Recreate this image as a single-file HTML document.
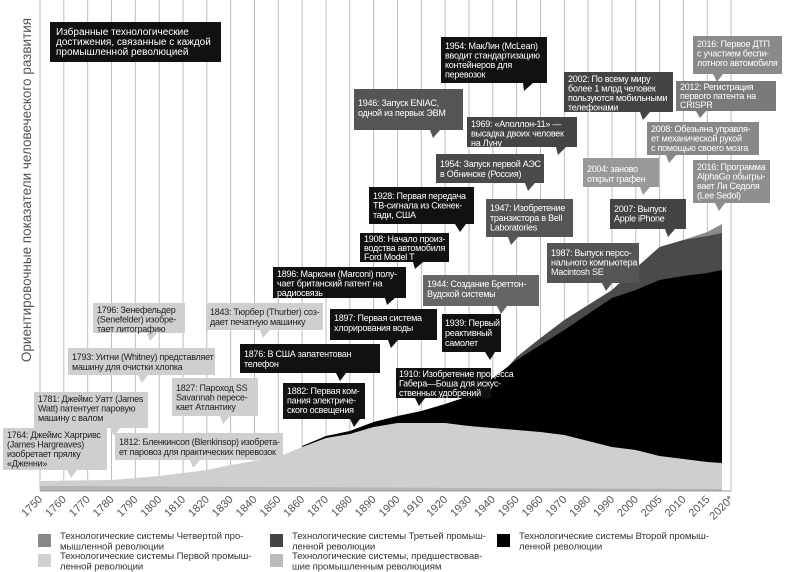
<!DOCTYPE html>
<html><head><meta charset="utf-8"><style>
body{margin:0;background:#fff;}
svg{display:block;font-family:"Liberation Sans","Noto Sans CJK SC",sans-serif;}
.t{font-size:9px;letter-spacing:-0.25px;}
.w{fill:#fff;}
.d{fill:#222;}
.k text{font-size:9.6px;fill:#333;letter-spacing:-0.1px;}
</style></head><body>
<svg width="790" height="572" viewBox="0 0 790 572" xmlns="http://www.w3.org/2000/svg">
<rect width="790" height="572" fill="#fff"/>
<g stroke="#bcbcbc" stroke-width="1">
<line x1="40" y1="0" x2="40" y2="491"/><line x1="63.8" y1="0" x2="63.8" y2="491"/><line x1="87.7" y1="0" x2="87.7" y2="491"/><line x1="111.5" y1="0" x2="111.5" y2="491"/><line x1="135.3" y1="0" x2="135.3" y2="491"/><line x1="159.2" y1="0" x2="159.2" y2="491"/><line x1="183" y1="0" x2="183" y2="491"/><line x1="206.8" y1="0" x2="206.8" y2="491"/><line x1="230.6" y1="0" x2="230.6" y2="491"/><line x1="254.5" y1="0" x2="254.5" y2="491"/><line x1="278.3" y1="0" x2="278.3" y2="491"/><line x1="302.1" y1="0" x2="302.1" y2="491"/><line x1="326" y1="0" x2="326" y2="491"/><line x1="349.8" y1="0" x2="349.8" y2="491"/><line x1="373.6" y1="0" x2="373.6" y2="491"/><line x1="397.5" y1="0" x2="397.5" y2="491"/><line x1="421.3" y1="0" x2="421.3" y2="491"/><line x1="445.1" y1="0" x2="445.1" y2="491"/><line x1="469" y1="0" x2="469" y2="491"/><line x1="492.8" y1="0" x2="492.8" y2="491"/><line x1="516.6" y1="0" x2="516.6" y2="491"/><line x1="540.5" y1="0" x2="540.5" y2="491"/><line x1="564.3" y1="0" x2="564.3" y2="491"/><line x1="588.1" y1="0" x2="588.1" y2="491"/><line x1="612" y1="0" x2="612" y2="491"/><line x1="635.8" y1="0" x2="635.8" y2="491"/><line x1="659.6" y1="0" x2="659.6" y2="491"/><line x1="683.4" y1="0" x2="683.4" y2="491"/><line x1="707.3" y1="0" x2="707.3" y2="491"/><line x1="731.1" y1="0" x2="731.1" y2="491"/>
</g>
<polygon fill="#8a8a8a" points="659.6,247 683.4,240 707.3,232 722,224 722,491 659.6,491"/>
<polygon fill="#4a4a4a" points="505,370 516.6,357 540.5,338 564.3,320 588.1,305 612,290 635.8,268 659.6,247 683.4,240 707.3,236 722,233 722,491 505,491"/>
<polygon fill="#000" points="302.1,446 326,436 349.8,431 373.6,422 397.5,416 421.3,411 445.1,404 469,396 492.8,378 516.6,360 540.5,345 564.3,330 588.1,314 612,298 635.8,290 659.6,280 683.4,276 707.3,273 722,270 722,491 302.1,491"/>
<polygon fill="#cfcfcf" points="40,481 111.5,480 159.2,476 206.8,470 230.6,465 254.5,461 278.3,457 302.1,447 326,438 349.8,434 373.6,427 397.5,423 445.1,423 469,426 492.8,428 516.6,430 540.5,432 564.3,435 588.1,441 612,447 635.8,450 659.6,456 683.4,459 707.3,462 722,463 722,491 40,491"/>
<polygon fill="#b5b5b5" points="40,486 722,489 722,491 40,491"/>
<line x1="40" y1="491" x2="731" y2="491" stroke="#999" stroke-width="1"/>
<g font-size="11" fill="#555" text-anchor="end">
<text transform="translate(43,500) rotate(-45)">1750</text><text transform="translate(66.8,500) rotate(-45)">1760</text><text transform="translate(90.7,500) rotate(-45)">1770</text><text transform="translate(114.5,500) rotate(-45)">1780</text><text transform="translate(138.3,500) rotate(-45)">1790</text><text transform="translate(162.2,500) rotate(-45)">1800</text><text transform="translate(186,500) rotate(-45)">1810</text><text transform="translate(209.8,500) rotate(-45)">1820</text><text transform="translate(233.6,500) rotate(-45)">1830</text><text transform="translate(257.5,500) rotate(-45)">1840</text><text transform="translate(281.3,500) rotate(-45)">1850</text><text transform="translate(305.1,500) rotate(-45)">1860</text><text transform="translate(329,500) rotate(-45)">1870</text><text transform="translate(352.8,500) rotate(-45)">1880</text><text transform="translate(376.6,500) rotate(-45)">1890</text><text transform="translate(400.5,500) rotate(-45)">1900</text><text transform="translate(424.3,500) rotate(-45)">1910</text><text transform="translate(448.1,500) rotate(-45)">1920</text><text transform="translate(472,500) rotate(-45)">1930</text><text transform="translate(495.8,500) rotate(-45)">1940</text><text transform="translate(519.6,500) rotate(-45)">1950</text><text transform="translate(543.5,500) rotate(-45)">1960</text><text transform="translate(567.3,500) rotate(-45)">1970</text><text transform="translate(591.1,500) rotate(-45)">1980</text><text transform="translate(615,500) rotate(-45)">1990</text><text transform="translate(638.8,500) rotate(-45)">2000</text><text transform="translate(662.6,500) rotate(-45)">2005</text><text transform="translate(686.4,500) rotate(-45)">2010</text><text transform="translate(710.3,500) rotate(-45)">2015</text><text transform="translate(734.1,500) rotate(-45)">2020*</text>
</g>
<text transform="translate(31,190) rotate(-90)" text-anchor="middle" font-size="13.5" fill="#555">Ориентировочные показатели человеческого развития</text>

<g class="t">
<rect x="50" y="22" width="171" height="40" fill="#111"/>
<g font-size="10" letter-spacing="0">
<text class="w" x="56" y="35">Избранные технологические</text><text class="w" x="56" y="45">достижения, связанные с каждой</text><text class="w" x="56" y="55">промышленной революцией</text>
</g>

<rect x="441" y="37" width="106" height="46" fill="#111"/><polygon points="523,83 533,83 524,91" fill="#111"/>
<text class="w" x="445" y="49">1954: МакЛин (McLean)</text><text class="w" x="445" y="58.5">вводит стандартизацию</text><text class="w" x="445" y="68">контейнеров для</text><text class="w" x="445" y="77.5">перевозок</text>

<rect x="369" y="187" width="105" height="37" fill="#111"/><polygon points="455,224 466,224 460,232" fill="#111"/>
<text class="w" x="373" y="199">1928: Первая передача</text><text class="w" x="373" y="208.5">ТВ-сигнала из Скенек-</text><text class="w" x="373" y="218">тади, США</text>

<rect x="360" y="233" width="89" height="29" fill="#111"/><polygon points="413,262 423,262 415,269" fill="#111"/>
<text class="w" x="364" y="242">1908: Начало произ-</text><text class="w" x="364" y="251">водства автомобиля</text><text class="w" x="364" y="260">Ford Model T</text>

<rect x="273" y="267" width="133" height="31" fill="#111"/><polygon points="385,298 395,298 387,305" fill="#111"/>
<text class="w" x="277" y="277">1896: Маркони (Marconi) полу-</text><text class="w" x="277" y="286.5">чает британский патент на</text><text class="w" x="277" y="296">радиосвязь</text>

<rect x="330" y="309" width="107" height="31" fill="#111"/><polygon points="388,340 398,340 391,348" fill="#111"/>
<text class="w" x="334" y="321">1897: Первая система</text><text class="w" x="334" y="331">хлорирования воды</text>

<rect x="240" y="344" width="140" height="29" fill="#111"/><polygon points="336,373 346,373 340,381" fill="#111"/>
<text class="w" x="244" y="357">1876: В США запатентован</text><text class="w" x="244" y="367">телефон</text>

<rect x="283" y="383" width="82" height="36" fill="#111"/><polygon points="350,419 360,419 354,427" fill="#111"/>
<text class="w" x="287" y="394">1882: Первая ком-</text><text class="w" x="287" y="403.5">пания электриче-</text><text class="w" x="287" y="413">ского освещения</text>

<rect x="396" y="368" width="95" height="30" fill="#111"/><polygon points="415,398 425,398 419,406" fill="#111"/>
<text class="w" x="399" y="377">1910: Изобретение процесса</text><text class="w" x="399" y="386.5">Габера—Боша для искус-</text><text class="w" x="399" y="396">ственных удобрений</text>

<rect x="442" y="314" width="59" height="38" fill="#111"/><polygon points="485,352 495,352 490,360" fill="#111"/>
<text class="w" x="445" y="326">1939: Первый</text><text class="w" x="445" y="336">реактивный</text><text class="w" x="445" y="346">самолет</text>

<rect x="354" y="89" width="109" height="41" fill="#555"/><polygon points="430,130 440,130 433,138" fill="#555"/>
<text class="w" x="358" y="106">1946: Запуск ENIAC,</text><text class="w" x="358" y="116">одной из первых ЭВМ</text>

<rect x="467" y="117" width="110" height="30" fill="#444"/><polygon points="556,147 566,147 558,155" fill="#444"/>
<text class="w" x="471" y="127">1969: «Аполлон-11» —</text><text class="w" x="471" y="136.5">высадка двоих человек</text><text class="w" x="471" y="146">на Луну</text>

<rect x="436" y="154" width="108" height="29" fill="#4a4a4a"/><polygon points="525,183 535,183 528,191" fill="#4a4a4a"/>
<text class="w" x="440" y="167">1954: Запуск первой АЭС</text><text class="w" x="440" y="177">в Обнинске (Россия)</text>

<rect x="486" y="199" width="87" height="38" fill="#555"/><polygon points="508,237 518,237 511,245" fill="#555"/>
<text class="w" x="490" y="211">1947: Изобретение</text><text class="w" x="490" y="221">транзистора в Bell</text><text class="w" x="490" y="230.5">Laboratories</text>

<rect x="564" y="72" width="109" height="40" fill="#444"/><polygon points="640,112 650,112 643,120" fill="#444"/>
<text class="w" x="568" y="82">2002: По всему миру</text><text class="w" x="568" y="91.5">более 1 млрд человек</text><text class="w" x="568" y="101">пользуются мобильными</text><text class="w" x="568" y="110.5">телефонами</text>

<rect x="610" y="199" width="76" height="30" fill="#444"/><polygon points="665,229 675,229 668,237" fill="#444"/>
<text class="w" x="614" y="212">2007: Выпуск</text><text class="w" x="614" y="221.5">Apple iPhone</text>

<rect x="547" y="243" width="92" height="40" fill="#555"/><polygon points="602,283 612,283 606,291" fill="#555"/>
<text class="w" x="551" y="256">1987: Выпуск персо-</text><text class="w" x="551" y="265.5">нального компьютера</text><text class="w" x="551" y="275">Macintosh SE</text>

<rect x="423" y="275" width="116" height="31" fill="#666"/><polygon points="497,306 507,306 501,314" fill="#666"/>
<text class="w" x="427" y="287">1944: Создание Бреттон-</text><text class="w" x="427" y="297">Вудской системы</text>

<rect x="693" y="36" width="89" height="38" fill="#8a8a8a"/><polygon points="713,74 723,74 717,82" fill="#8a8a8a"/>
<text class="w" x="697" y="47">2016: Первое ДТП</text><text class="w" x="697" y="56.5">с участием беспи-</text><text class="w" x="697" y="66">лотного автомобиля</text>

<rect x="676" y="81" width="100" height="30" fill="#7a7a7a"/><polygon points="696,111 706,111 700,118" fill="#7a7a7a"/>
<text class="w" x="680" y="90">2012: Регистрация</text><text class="w" x="680" y="99">первого патента на</text><text class="w" x="680" y="108">CRISPR</text>

<rect x="647" y="122" width="112" height="33" fill="#888"/><polygon points="666,155 676,155 669,163" fill="#888"/>
<text class="w" x="651" y="132">2008: Обезьяна управля-</text><text class="w" x="651" y="141.5">ет механической рукой</text><text class="w" x="651" y="151">с помощью своего мозга</text>

<rect x="693" y="160" width="77" height="43" fill="#8e8e8e"/><polygon points="715,203 725,203 719,211" fill="#8e8e8e"/>
<text class="w" x="697" y="170">2016: Программа</text><text class="w" x="697" y="179.5">AlphaGo обыгры-</text><text class="w" x="697" y="189">вает Ли Седоля</text><text class="w" x="697" y="198.5">(Lee Sedol)</text>

<rect x="583" y="158" width="76" height="29" fill="#999"/><polygon points="640,187 650,187 643,195" fill="#999"/>
<text class="w" x="587" y="172">2004: заново</text><text class="w" x="587" y="182">открыт графен</text>

<g fill="#cfcfcf">
<rect x="206" y="303" width="117" height="27"/><polygon points="260,330 270,330 263,338"/>
<rect x="93" y="303" width="92" height="30"/><polygon points="147,333 157,333 150,341"/>
<rect x="68" y="348" width="147" height="27"/><polygon points="138,375 148,375 142,383"/>
<rect x="172" y="378" width="86" height="38"/><polygon points="220,416 230,416 223,424"/>
<rect x="34" y="392" width="114" height="36"/><polygon points="110,428 120,428 114,436"/>
<rect x="115" y="433" width="168" height="27"/><polygon points="190,460 200,460 193,468"/>
<rect x="3" y="428" width="104" height="42"/><polygon points="67,470 77,470 71,478"/>
</g>
<g class="d">
<text x="210" y="315">1843: Тюрбер (Thurber) соз-</text><text x="210" y="325">дает печатную машинку</text>
<text x="97" y="313">1796: Зенефельдер</text><text x="97" y="322.5">(Senefelder) изобре-</text><text x="97" y="332">тает литографию</text>
<text x="72" y="360">1793: Уитни (Whitney) представляет</text><text x="72" y="370">машину для очистки хлопка</text>
<text x="176" y="391">1827: Пароход SS</text><text x="176" y="400.5">Savannah пересе-</text><text x="176" y="410">кает Атлантику</text>
<text x="38" y="402">1781: Джеймс Уатт (James</text><text x="38" y="411.5">Watt) патентует паровую</text><text x="38" y="421">машину с валом</text>
<text x="119" y="445">1812: Бленкинсоп (Blenkinsop) изобрета-</text><text x="119" y="455">ет паровоз для практических перевозок</text>
<text x="7" y="438">1764: Джеймс Харгривс</text><text x="7" y="447.5">(James Hargreaves)</text><text x="7" y="457">изобретает прялку</text><text x="7" y="466.5">«Дженни»</text>
</g>
</g>

<g class="k">
<rect x="38" y="534" width="13" height="13" fill="#888"/>
<text x="60" y="539">Технологические системы Четвертой про-</text><text x="60" y="549.5">мышленной революции</text>
<rect x="38" y="554" width="13" height="13" fill="#d0d0d0"/>
<text x="60" y="559">Технологические системы Первой промыш-</text><text x="60" y="569.5">ленной революции</text>
<rect x="270" y="534" width="13" height="13" fill="#444"/>
<text x="292" y="539">Технологические системы Третьей промыш-</text><text x="292" y="549.5">ленной революции</text>
<rect x="270" y="554" width="13" height="13" fill="#bbb"/>
<text x="292" y="559">Технологические системы, предшествовав-</text><text x="292" y="569.5">шие промышленным революциям</text>
<rect x="497" y="534" width="13" height="13" fill="#000"/>
<text x="519" y="539">Технологические системы Второй промыш-</text><text x="519" y="549.5">ленной революции</text>
</g>
</svg>
</body></html>
